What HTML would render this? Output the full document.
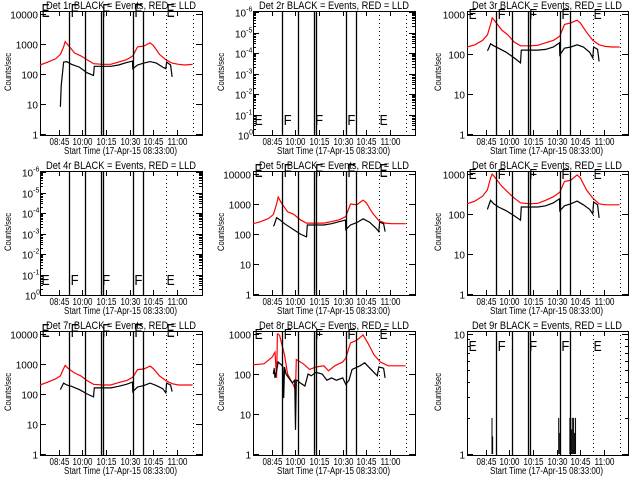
<!DOCTYPE html>
<html><head><meta charset="utf-8"><style>
html,body{margin:0;padding:0;background:#fff;}
svg{display:block;}
text{font-family:"Liberation Sans",sans-serif;fill:#000;}
</style></head>
<body>
<svg id="chart" width="640" height="480" viewBox="0 0 640 480" xmlns="http://www.w3.org/2000/svg"></svg>
<script>
// ---- data (minutes after 09:33) ----
const tickLabels = ["08:45","10:00","10:15","10:30","10:45","11:00"];
const tickMinutes = [12,27,42,57,72,87];
const solidLines = [18.6,28.8,38.6,40.2,58.9,65.7];
const dottedLines = [80.1,97.5];
const flagLetters = ["E","F","F","F","E"];
const flagTimes = [1,19.5,39.5,60,80.5];
const tRed = [0,5,10,13,15,16,18,22,26,30,34,40,45,50,55,59,62,66,70,72,76,80,84,88,92,97];
const tBlack = [13,13.5,15,17,20,25,30,34,34.5,40,45,50,55,58.8,59,62,66,70,74,78,80,80.5,83,84];
const red1 = [200,250,320,450,800,1200,900,500,400,300,220,210,210,250,300,400,800,850,1100,900,450,300,230,210,200,210];
const black1 = [8,40,250,260,210,170,110,90,180,180,180,200,240,270,150,200,230,260,230,170,150,250,200,80];
const red3 = [150,170,220,300,550,800,650,400,300,200,160,160,165,190,220,280,550,600,700,600,350,220,170,155,150,150];
const black3 = [120,130,180,160,140,110,80,60,125,125,125,130,150,190,95,140,150,170,150,110,80,150,130,65];
const red5 = [220,260,330,450,1000,1700,1100,550,450,300,230,230,230,260,300,380,1000,950,1350,1100,500,280,230,220,220,220];
const black5 = [180,200,350,300,220,150,100,80,200,200,200,220,260,290,140,200,240,320,250,160,120,250,220,120];
const red6 = [180,210,280,400,800,1000,800,500,350,250,190,180,185,220,270,350,650,700,950,800,400,250,180,170,170,170];
const black6 = [130,150,220,180,150,120,90,70,150,150,150,160,190,240,120,160,180,210,170,130,100,200,170,80];
const red7 = [200,250,320,400,700,900,700,500,400,280,210,200,200,240,280,360,650,680,850,700,400,280,220,200,200,200];
const black7 = [140,160,230,200,180,140,100,80,160,160,160,180,210,250,120,170,190,230,190,150,110,230,200,120];
const tRed8 = [0,7,12,14,15,15.5,16,17,20,22,26,27,27.5,32,36,40,45,48,52,57,59,62,66,70,73,77,81,86,97];
const red8 = [170,180,260,350,80,1000,1000,900,300,100,50,40,230,180,130,150,160,120,160,200,250,600,700,950,600,300,200,160,160];
const tBlack8 = [13,13.5,14,15,16,18,19,19.5,20,21,25,26.5,27,27.5,28,30,33,35,37,40,44,47,50,53,57,59,61,63,68,71,75,79,80,83,84];
const black8 = [100,140,80,120,200,170,150,25,150,100,60,70,4,70,70,60,50,100,90,110,100,70,80,70,80,55,70,130,160,190,130,90,150,140,80];
const spikeTimes9 = [15.9,16.3,58.3,58.7,65.4,66,66.6,67.2,67.8,68.4,69];
const spikeValues9 = [2,1.4,2,1.5,2,2,1.6,2,2,1.5,2];

const panels = [
 {n:1,col:0,row:0,dec:4,red:red1,black:black1,tr:tRed,tb:tBlack,flag:"top"},
 {n:2,col:1,row:0,dec:6,exp:true,flag:"bottom"},
 {n:3,col:2,row:0,dec:3,red:red3,black:black3,tr:tRed,tb:tBlack,flag:"upper"},
 {n:4,col:0,row:1,dec:6,exp:true,flag:"bottom"},
 {n:5,col:1,row:1,dec:4,red:red5,black:black5,tr:tRed,tb:tBlack,flag:"top"},
 {n:6,col:2,row:1,dec:3,red:red6,black:black6,tr:tRed,tb:tBlack,flag:"upper"},
 {n:7,col:0,row:2,dec:4,red:red7,black:black7,tr:tRed,tb:tBlack,flag:"top"},
 {n:8,col:1,row:2,dec:3,red:red8,black:black8,tr:tRed8,tb:tBlack8,flag:"upper"},
 {n:9,col:2,row:2,dec:1,spikes:true,flag:"mid"}
];
const NS="http://www.w3.org/2000/svg";
const svg=document.getElementById('chart');
function mk(tag,attrs,parent){const e=document.createElementNS(NS,tag);for(const k in attrs)e.setAttribute(k,attrs[k]);parent.appendChild(e);return e;}

panels.forEach(p=>{
  const ox=[0,213,426][p.col], oy=p.row*160;
  const L=ox+(p.col===2?41:40), R=ox+202, T=oy+11, B=oy+135;
  const g=mk('g',{},svg);
  
  
  const xS=m=>L+m*1.573;
  const y0=p.exp?B:oy+134, yTop=p.exp?oy+12:oy+14;
  const yS=v=>y0-(y0-yTop)/p.dec*Math.log10(v);
  // title
  const title=mk('text',{x:ox+46,y:oy+9,'font-size':11,textLength:150,lengthAdjust:'spacingAndGlyphs'},g);
  title.textContent='Det '+p.n+'r BLACK = Events, RED = LLD';
  
  
  // box
  const box=mk('rect',{x:L+0.5,y:T+0.5,width:R-L,height:B-T,fill:'none',stroke:'#000','stroke-width':1},g);
  
  
  // y ticks
  for(let d=0;d<=p.dec;d++){
    const yy=Math.round(p.exp? y0-(y0-yTop)/p.dec*d : yS(Math.pow(10,d)))+0.5;
    mk('line',{x1:L,x2:L+6,y1:yy,y2:yy,stroke:'#000'},g);
    mk('line',{x1:R-6,x2:R,y1:yy,y2:yy,stroke:'#000'},g);
    const lb=mk('text',{x:L-2,y:yy+4,'font-size':10,'text-anchor':'end'},g);
    
    
    if(p.exp){
      lb.setAttribute('text-anchor','start');
      lb.setAttribute('x',L-(d===0?15:18));
      lb.textContent='10';
      const s=mk('tspan',{dy:-5,'font-size':7},lb);
      s.textContent=d===0?'0':'-'+d;
    } else {
      lb.textContent=String(Math.pow(10,d));
    }
    if(d<p.dec && (p.exp||p.dec<=1)){
      for(let k=2;k<10;k++){
        const ym=Math.round(p.exp? y0-(y0-yTop)/p.dec*(d+Math.log10(k)) : yS(Math.pow(10,d)*k))+0.5;
        mk('line',{x1:L,x2:L+3,y1:ym,y2:ym,stroke:'#000'},g);
        mk('line',{x1:R-3,x2:R,y1:ym,y2:ym,stroke:'#000'},g);
      }
    }
  }
  // x ticks
  tickMinutes.forEach((m,i)=>{
    const xx=Math.round(xS(m))+0.5;
    mk('line',{x1:xx,x2:xx,y1:B,y2:B-5,stroke:'#000'},g);
    mk('line',{x1:xx,x2:xx,y1:T,y2:T+5,stroke:'#000'},g);
    const t=mk('text',{x:xx-10,y:oy+145,'font-size':10,textLength:20,lengthAdjust:'spacingAndGlyphs'},g);
    t.textContent=tickLabels[i];
    
    
  });
  const xt=mk('text',{x:ox+64,y:oy+154,'font-size':10,textLength:113,lengthAdjust:'spacingAndGlyphs'},g);
  xt.textContent='Start Time (17-Apr-15 08:33:00)';
  
  
  const yt=mk('text',{x:0,y:0,'font-size':9,textLength:38,lengthAdjust:'spacingAndGlyphs',transform:'translate('+(ox+(p.col===2?15:11))+','+(oy+91)+') rotate(-90)'},g);
  yt.textContent='Counts/sec';
  
  
  // series
  if(p.red){
    const pr=mk('polyline',{points:p.tr.map((t,i)=>xS(t).toFixed(1)+','+yS(p.red[i]).toFixed(1)).join(' '),fill:'none',stroke:'#ff0000','stroke-width':1.2},g);
    
    
    const pb=mk('polyline',{points:p.tb.map((t,i)=>xS(t).toFixed(1)+','+yS(p.black[i]).toFixed(1)).join(' '),fill:'none',stroke:'#000','stroke-width':1.2},g);
    
    
  }
  if(p.spikes){
    spikeTimes9.forEach((t,i)=>{
      const sp=mk('line',{x1:xS(t),x2:xS(t),y1:yS(1),y2:yS(spikeValues9[i]),stroke:'#000','stroke-width':1},g);
      
      
    });
  }
  // vertical markers
  solidLines.forEach(m=>{
    const xx=Math.round(xS(m))+0.5;
    const v=mk('line',{x1:xx,x2:xx,y1:T,y2:B,stroke:'#000','stroke-width':1.3},g);
    
    
  });
  dottedLines.forEach(m=>{
    const xx=Math.round(xS(m))+0.5;
    const v=mk('line',{x1:xx,x2:xx,y1:T,y2:B,stroke:'#000','stroke-width':1,'stroke-dasharray':'1,3'},g);
    
    
  });
  // flags
  const fy={top:oy+17,upper:oy+19,bottom:oy+125,mid:oy+31}[p.flag];
  flagLetters.forEach((f,i)=>{
    const ft=mk('text',{x:xS(flagTimes[i]),y:fy,'font-size':p.flag==='top'?18:15,textLength:8,lengthAdjust:'spacingAndGlyphs'},g);
    ft.textContent=f;
    
    
  });
});
</script>
</body></html>
